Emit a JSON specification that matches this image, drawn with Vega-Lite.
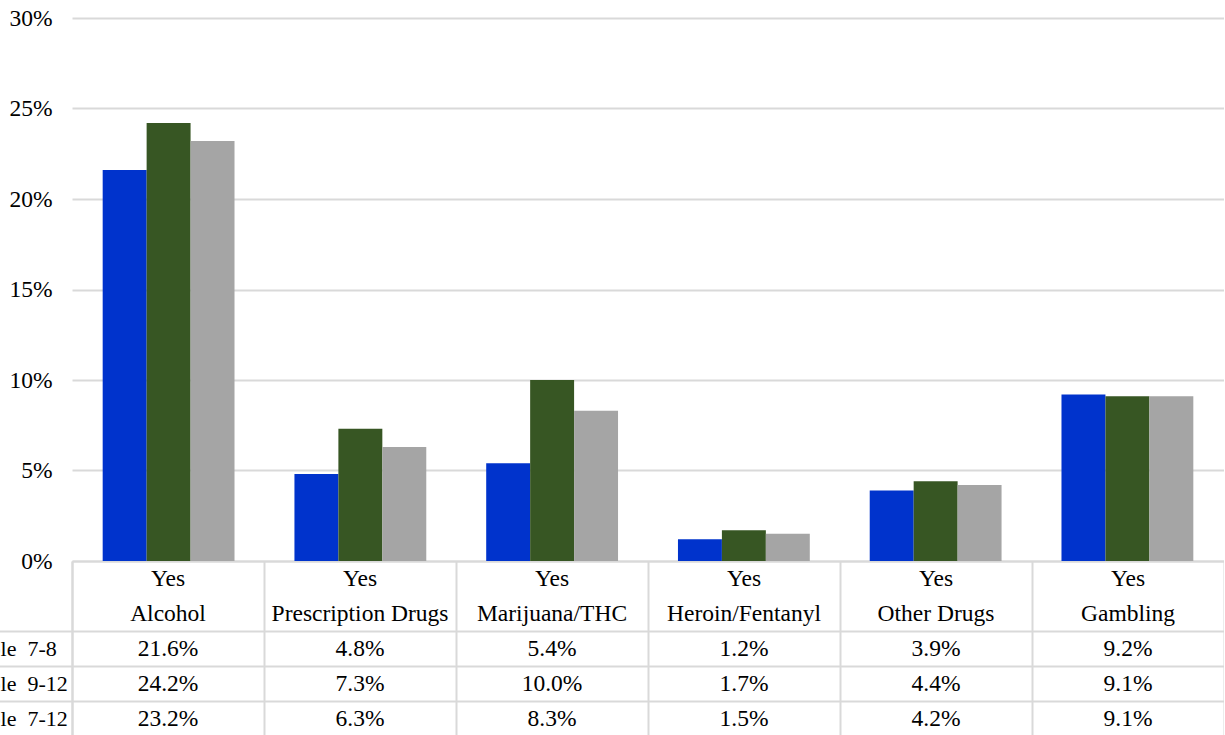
{
  "$schema": "https://vega.github.io/schema/vega-lite/v6.json",
  "background": "white",
  "padding": {"left": -59, "top": 6, "right": 0, "bottom": 0},
  "spacing": 0,
  "bounds": "flush",
  "config": {
    "view": {"stroke": null},
    "font": "Liberation Serif",
    "text": {"font": "Liberation Serif", "fontSize": 23.5, "color": "#000000"}
  },
  "datasets": {
    "values": [
      {"category": "Alcohol", "grade": "Sample \u00a07-8", "value": 0.216},
      {"category": "Alcohol", "grade": "Sample \u00a09-12", "value": 0.242},
      {"category": "Alcohol", "grade": "Sample \u00a07-12", "value": 0.232},
      {"category": "Prescription Drugs", "grade": "Sample \u00a07-8", "value": 0.048},
      {"category": "Prescription Drugs", "grade": "Sample \u00a09-12", "value": 0.073},
      {"category": "Prescription Drugs", "grade": "Sample \u00a07-12", "value": 0.063},
      {"category": "Marijuana/THC", "grade": "Sample \u00a07-8", "value": 0.054},
      {"category": "Marijuana/THC", "grade": "Sample \u00a09-12", "value": 0.100},
      {"category": "Marijuana/THC", "grade": "Sample \u00a07-12", "value": 0.083},
      {"category": "Heroin/Fentanyl", "grade": "Sample \u00a07-8", "value": 0.012},
      {"category": "Heroin/Fentanyl", "grade": "Sample \u00a09-12", "value": 0.017},
      {"category": "Heroin/Fentanyl", "grade": "Sample \u00a07-12", "value": 0.015},
      {"category": "Other Drugs", "grade": "Sample \u00a07-8", "value": 0.039},
      {"category": "Other Drugs", "grade": "Sample \u00a09-12", "value": 0.044},
      {"category": "Other Drugs", "grade": "Sample \u00a07-12", "value": 0.042},
      {"category": "Gambling", "grade": "Sample \u00a07-8", "value": 0.092},
      {"category": "Gambling", "grade": "Sample \u00a09-12", "value": 0.091},
      {"category": "Gambling", "grade": "Sample \u00a07-12", "value": 0.091}
    ],
    "header": [
      {"category": "Alcohol", "row": "h1", "label": "Yes"},
      {"category": "Alcohol", "row": "h2", "label": "Alcohol"},
      {"category": "Prescription Drugs", "row": "h1", "label": "Yes"},
      {"category": "Prescription Drugs", "row": "h2", "label": "Prescription Drugs"},
      {"category": "Marijuana/THC", "row": "h1", "label": "Yes"},
      {"category": "Marijuana/THC", "row": "h2", "label": "Marijuana/THC"},
      {"category": "Heroin/Fentanyl", "row": "h1", "label": "Yes"},
      {"category": "Heroin/Fentanyl", "row": "h2", "label": "Heroin/Fentanyl"},
      {"category": "Other Drugs", "row": "h1", "label": "Yes"},
      {"category": "Other Drugs", "row": "h2", "label": "Other Drugs"},
      {"category": "Gambling", "row": "h1", "label": "Yes"},
      {"category": "Gambling", "row": "h2", "label": "Gambling"}
    ]
  },
  "resolve": {"scale": {"x": "independent", "y": "independent"}},
  "vconcat": [
    {
      "width": 1152,
      "height": 543,
      "data": {"name": "values"},
      "mark": {"type": "bar"},
      "encoding": {
        "x": {
          "field": "category",
          "type": "nominal",
          "sort": ["Alcohol", "Prescription Drugs", "Marijuana/THC", "Heroin/Fentanyl", "Other Drugs", "Gambling"],
          "scale": {"paddingInner": 0.3125, "paddingOuter": 0.16},
          "axis": {"labels": false, "ticks": false, "title": null, "domainColor": "#d9d9d9", "domainWidth": 2, "minExtent": 0, "maxExtent": 0, "labelPadding": 0}
        },
        "xOffset": {
          "field": "grade",
          "type": "nominal",
          "sort": ["Sample \u00a07-8", "Sample \u00a09-12", "Sample \u00a07-12"],
          "scale": {"paddingInner": 0, "paddingOuter": 0}
        },
        "y": {
          "field": "value",
          "type": "quantitative",
          "scale": {"domain": [0, 0.3], "nice": false},
          "axis": {
            "values": [0, 0.05, 0.1, 0.15, 0.2, 0.25, 0.3],
            "format": ".0%",
            "title": null,
            "domain": false,
            "ticks": false,
            "labelFont": "Liberation Serif",
            "labelFontSize": 23.5,
            "labelColor": "#000000",
            "labelPadding": 20,
            "gridColor": "#d9d9d9",
            "gridWidth": 2
          }
        },
        "color": {
          "field": "grade",
          "type": "nominal",
          "scale": {"domain": ["Sample \u00a07-8", "Sample \u00a09-12", "Sample \u00a07-12"], "range": ["#0033cc", "#375623", "#a5a5a5"]},
          "legend": null
        }
      }
    },
    {
      "width": 1152,
      "height": 175,
      "encoding": {
        "x": {
          "field": "category",
          "type": "nominal",
          "sort": ["Alcohol", "Prescription Drugs", "Marijuana/THC", "Heroin/Fentanyl", "Other Drugs", "Gambling"],
          "scale": {"paddingInner": 0, "paddingOuter": 0},
          "axis": {"orient": "bottom", "labels": false, "ticks": false, "domain": false, "title": null, "grid": true, "tickBand": "extent", "gridColor": "#d9d9d9", "gridWidth": 2, "minExtent": 0, "maxExtent": 0}
        }
      },
      "layer": [
        {
          "data": {"name": "header"},
          "mark": {"type": "text"},
          "encoding": {
            "y": {
              "field": "row",
              "type": "nominal",
              "sort": ["h1", "h2", "Sample \u00a07-8", "Sample \u00a09-12", "Sample \u00a07-12"],
              "scale": {"domain": ["h1", "h2", "Sample \u00a07-8", "Sample \u00a09-12", "Sample \u00a07-12"], "paddingInner": 0, "paddingOuter": 0},
              "axis": {
                "title": null,
                "values": ["Sample \u00a07-8", "Sample \u00a09-12", "Sample \u00a07-12"],
                "labelFont": "Liberation Serif",
                "labelFontSize": 22,
                "labelColor": "#000000",
                "labelAlign": "left",
                "labelPadding": -8,
                "tickBand": "extent",
                "tickSize": 130,
                "tickColor": "#d9d9d9",
                "tickWidth": 2,
                "grid": true,
                "gridColor": "#d9d9d9",
                "gridWidth": 2,
                "domain": true,
                "domainColor": "#d9d9d9",
                "domainWidth": 2
              }
            },
            "text": {"field": "label", "type": "nominal"}
          }
        },
        {
          "data": {"name": "values"},
          "mark": {"type": "text"},
          "encoding": {
            "y": {"field": "grade", "type": "nominal"},
            "text": {"field": "value", "type": "quantitative", "format": ".1%"}
          }
        }
      ]
    }
  ]
}
